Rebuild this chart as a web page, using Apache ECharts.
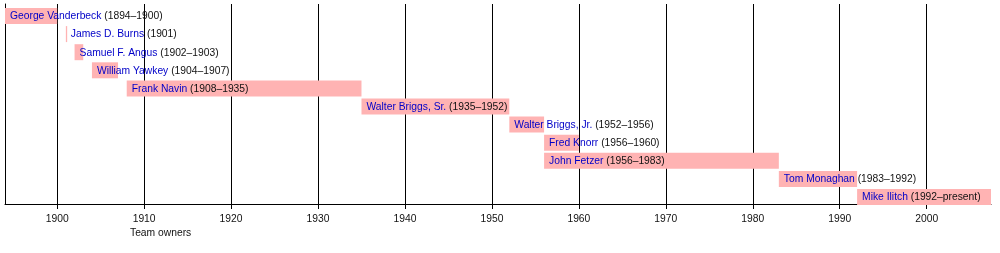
<!DOCTYPE html>
<html>
<head>
<meta charset="utf-8">
<script src="https://cdn.jsdelivr.net/npm/echarts@6/dist/echarts.min.js"></script>
<style>
html,body{margin:0;padding:0;background:#fff;}
#chart{width:1000px;height:253px;}
</style>
</head>
<body>
<div id="chart"></div>
<script>
const owners = ['George Vanderbeck','James D. Burns','Samuel F. Angus','William Yawkey','Frank Navin','Walter Briggs, Sr.','Walter Briggs, Jr.','Fred Knorr','John Fetzer','Tom Monaghan','Mike Ilitch'];
const yearTexts = ['(1894–1900)','(1901)','(1902–1903)','(1904–1907)','(1908–1935)','(1935–1952)','(1952–1956)','(1956–1960)','(1956–1983)','(1983–1992)','(1992–present)'];
const startYears = [1894,1901,1902,1904,1908,1935,1952,1956,1956,1983,1992];
const endYears = [1900,1901.15,1903,1907,1935,1952,1956,1960,1983,1992,2007.4];
const tickYears = [1900,1910,1920,1930,1940,1950,1960,1970,1980,1990,2000];
const axisTitle = 'Team owners';

const FONT = '"Liberation Sans", Arial, Helvetica, sans-serif';
const FS = 10.3;

const data = owners.map((n,i)=>[startYears[i], endYears[i], i]);

function renderItem(params, api){
  const s = api.value(0), e = api.value(1), row = api.value(2);
  const p0 = api.coord([s,row]);
  const p1 = api.coord([e,row]);
  const h = api.size([0,1])[1]*0.884;
  const i = params.dataIndex;
  return {
    type:'group',
    children:[
      {type:'rect', shape:{x:p0[0], y:p0[1]-h/2, width:p1[0]-p0[0], height:h}, style:{fill:'#ffb3b3'}},
      {type:'text', x:p0[0]+5, y:p0[1]+0.5, style:{
        text:'{n|'+owners[i]+'} {y|'+yearTexts[i]+'}',
        verticalAlign:'middle', align:'left',
        fontFamily:FONT, fontSize:FS, fill:'#111',
        rich:{
          n:{fill:'#0000c8', fontFamily:FONT, fontSize:FS},
          y:{fill:'#111', fontFamily:FONT, fontSize:FS}
        }
      }}
    ]
  };
}

const chart = echarts.init(document.getElementById('chart'), null, {renderer:'canvas'});
chart.setOption({
  animation:false,
  backgroundColor:'#fff',
  grid:{left:5, right:9, top:4, bottom:49, containLabel:false},
  xAxis:{
    type:'value', min:1894, max:2007.4, position:'bottom',
    axisLine:{show:true, onZero:false, lineStyle:{color:'#000', width:1}},
    axisTick:{show:true, length:5, lineStyle:{color:'#000'}, customValues:tickYears},
    axisLabel:{show:true, color:'#111', fontFamily:FONT, fontSize:FS, margin:10, customValues:tickYears, formatter:v=>String(v)},
    splitLine:{show:false}
  },
  yAxis:{
    type:'value', inverse:true, min:-0.663, max:10.387,
    axisLine:{show:true, onZero:false, lineStyle:{color:'#000', width:1}},
    axisTick:{show:false}, axisLabel:{show:false}, splitLine:{show:false}
  },
  graphic:[{
    type:'text', left:130, top:228,
    style:{text:axisTitle, fontFamily:FONT, fontSize:FS, fill:'#111'}
  }],
  series:[
    {
      type:'line', data:[], z:1, silent:true,
      markLine:{
        silent:true, z:1, symbol:['none','none'], animation:false,
        label:{show:false},
        lineStyle:{color:'#000', width:1, type:'solid'},
        data:tickYears.map(y=>({xAxis:y}))
      }
    },
    {
      type:'custom', z:10, renderItem:renderItem, data:data,
      encode:{x:[0,1], y:2}, silent:true
    }
  ]
});
</script>
</body>
</html>
